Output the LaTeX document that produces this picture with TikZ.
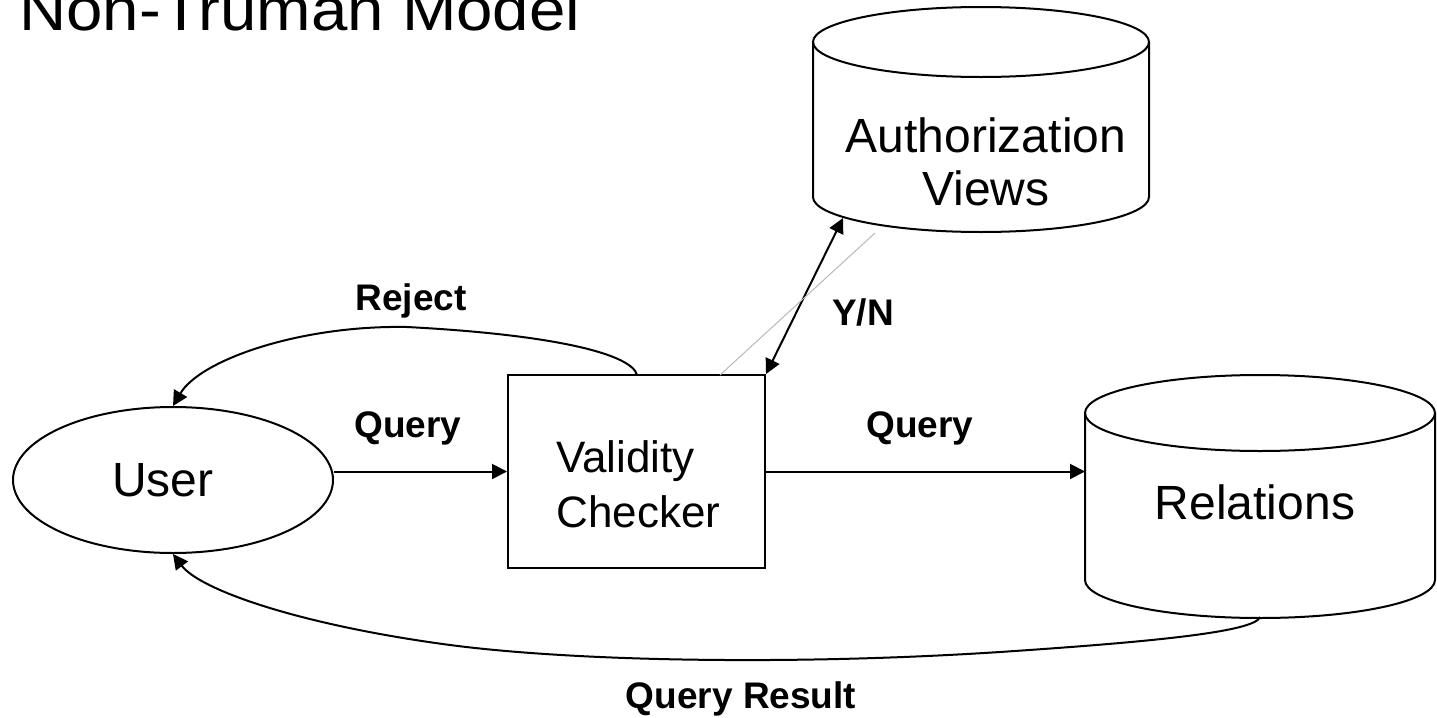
\documentclass[tikz,border=0pt]{standalone}
\usepackage{fontspec}
\setmainfont{Liberation Sans}
\usetikzlibrary{arrows.meta,shapes.geometric}
\tikzset{
  shapeline/.style={line width=1pt},
  tip/.tip={Triangle[length=7.5pt,width=7.5pt]},
  arr/.style={line width=1pt,-tip},
  big/.style={font=\fontsize{24}{26.5}\selectfont},
  lab/.style={font=\bfseries\fontsize{18.5}{22}\selectfont, anchor=base, inner sep=0pt},
}
\begin{document}
\begin{tikzpicture}[x=0.5pt,y=-0.5pt]
\useasboundingbox[fill=white] (0,0) rectangle (1437,718);

% title
\node[anchor=base west, inner sep=0pt, font=\fontsize{30}{34}\selectfont] (title) at (19,30) {\scalebox{1.09}[1]{Non-Truman Model}};

% user
\node[draw, ellipse, shapeline, minimum width=160pt, minimum height=73pt, inner sep=0pt, big] (user) at (173,480) {User\kern10pt};

% validity checker
\node[draw, shapeline, minimum width=128.5pt, minimum height=96.5pt, inner sep=0pt] (vc) at (636.5,471.5) {};
\node[font=\fontsize{22}{27.5}\selectfont, anchor=base west, inner sep=0pt] (vctext) at (556,472) {\begin{tabular}[t]{@{}l@{}}Validity\\Checker\end{tabular}};

% authorization views cylinder
\draw[shapeline] (981,42) ellipse [x radius=168, y radius=35];
\draw[shapeline] (813,42) -- (813,197) arc[start angle=180, end angle=0, x radius=168, y radius=35] -- (1149,42);
\node[big, anchor=base, inner sep=0pt] (authtext) at (986,152) {\begin{tabular}[t]{@{}c@{}}Authorization\\Views\end{tabular}};

% relations cylinder
\draw[shapeline] (1260,413) ellipse [x radius=175, y radius=38];
\draw[shapeline] (1085,413) -- (1085,580) arc[start angle=180, end angle=0, x radius=175, y radius=38] -- (1435,413);
\node[big, anchor=base, inner sep=0pt] (reltext) at (1255,519) {Relations};

% connector end points on the cylinders
\coordinate (authS) at (843,218);
\coordinate (relW) at (1085,471.5);
\coordinate (relS) at (1260,617);
\coordinate (rejS) at (637,375);
\coordinate (yn1) at (720,375);
\coordinate (yn2) at (875,233);

% connectors
\draw[arr] (user.east |- vc.west) -- (vc.west);
\draw[arr] (vc.east) -- (relW);
\draw[line width=1pt, tip-tip] (authS) -- (vc.north east);
\draw[line width=0.5pt, gray!55] (yn1) -- (yn2);
\draw[arr] (rejS) .. controls (632,355) and (560,335) .. (407,327)
                 .. controls (300,325) and (200,360) .. (user.north);
\draw[arr] (relS) .. controls (1255,632) and (1150,642) .. (1000,652)
                 .. controls (800,665) and (580,662) .. (450,645)
                 .. controls (300,625) and (200,590) .. (user.south);

% labels
\node[lab] (lreject) at (411,310) {Reject};
\node[lab] (lq1) at (408,437) {Query};
\node[lab] (lq2) at (920,437) {Query};
\node[lab] (lyn) at (863,325) {Y/N};
\node[lab] (lqr) at (741,708) {Query Result};
\end{tikzpicture}
\end{document}
